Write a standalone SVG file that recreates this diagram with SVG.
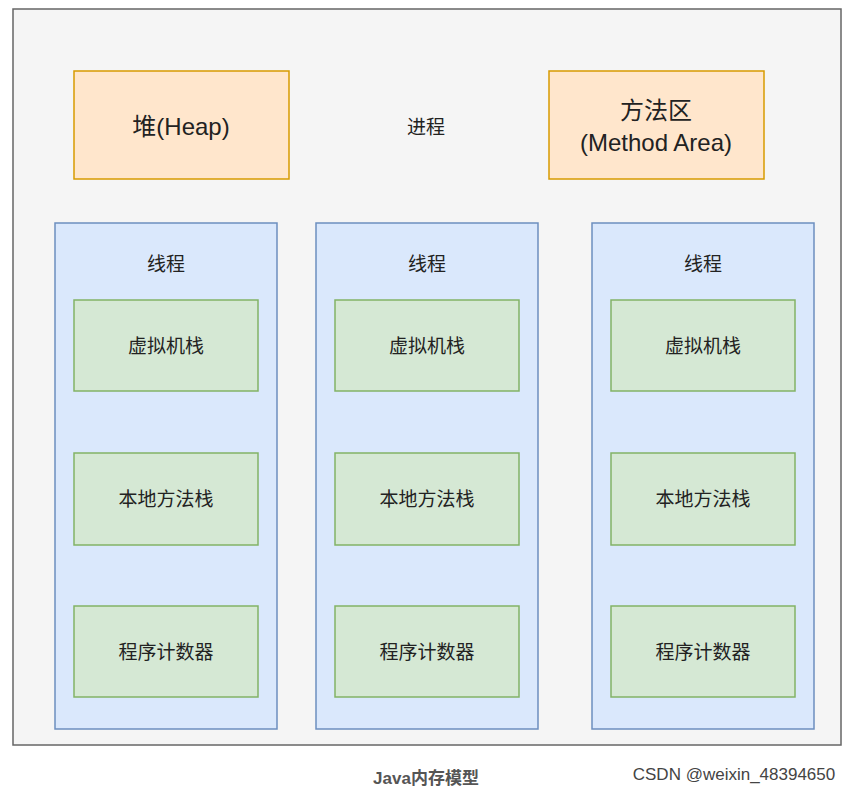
<svg xmlns="http://www.w3.org/2000/svg" width="865" height="793" viewBox="0 0 865 793">
<style>
text{font-family:"Liberation Sans","Noto Sans CJK SC",sans-serif;text-anchor:middle;dominant-baseline:central;fill:#222}
.o{fill:#ffe6cc;stroke:#d79b00;stroke-width:1.5}
.t{fill:#dae8fc;stroke:#6c8ebf;stroke-width:1.5}
.g{fill:#d5e8d4;stroke:#82b366;stroke-width:1.5}
.s{font-size:19px}.b{font-size:24px}
</style>
<rect width="865" height="793" fill="#fff"/>
<g id="process"><rect x="13" y="9" width="828" height="736" fill="#f5f5f5" stroke="#666" stroke-width="1.5"/><text x="426" y="127" class="s">进程</text></g>
<g id="heap"><rect class="o" x="74" y="71" width="215" height="108"/><text x="181" y="126" class="b">堆(Heap)</text></g>
<g id="method"><rect class="o" x="549" y="71" width="215" height="108"/><text x="656" y="110" class="b">方法区</text><text x="656" y="142" class="b">(Method Area)</text></g>
<g id="t1"><rect class="t" x="55" y="223" width="222" height="506"/><text x="166" y="264" class="s">线程</text>
<rect class="g" x="74" y="300" width="184" height="91"/><text x="166" y="346" class="s">虚拟机栈</text>
<rect class="g" x="74" y="453" width="184" height="92"/><text x="166" y="499" class="s">本地方法栈</text>
<rect class="g" x="74" y="606" width="184" height="91"/><text x="166" y="652" class="s">程序计数器</text></g>
<g id="t2"><rect class="t" x="316" y="223" width="222" height="506"/><text x="427" y="264" class="s">线程</text>
<rect class="g" x="335" y="300" width="184" height="91"/><text x="427" y="346" class="s">虚拟机栈</text>
<rect class="g" x="335" y="453" width="184" height="92"/><text x="427" y="499" class="s">本地方法栈</text>
<rect class="g" x="335" y="606" width="184" height="91"/><text x="427" y="652" class="s">程序计数器</text></g>
<g id="t3"><rect class="t" x="592" y="223" width="222" height="506"/><text x="703" y="264" class="s">线程</text>
<rect class="g" x="611" y="300" width="184" height="91"/><text x="703" y="346" class="s">虚拟机栈</text>
<rect class="g" x="611" y="453" width="184" height="92"/><text x="703" y="499" class="s">本地方法栈</text>
<rect class="g" x="611" y="606" width="184" height="91"/><text x="703" y="652" class="s">程序计数器</text></g>
<g id="connectors"/>
<text x="426" y="778" style="font-size:17px;font-weight:bold;fill:#555">Java内存模型</text>
<text x="734" y="774" style="font-size:17px;fill:#444">CSDN @weixin_48394650</text>
</svg>
